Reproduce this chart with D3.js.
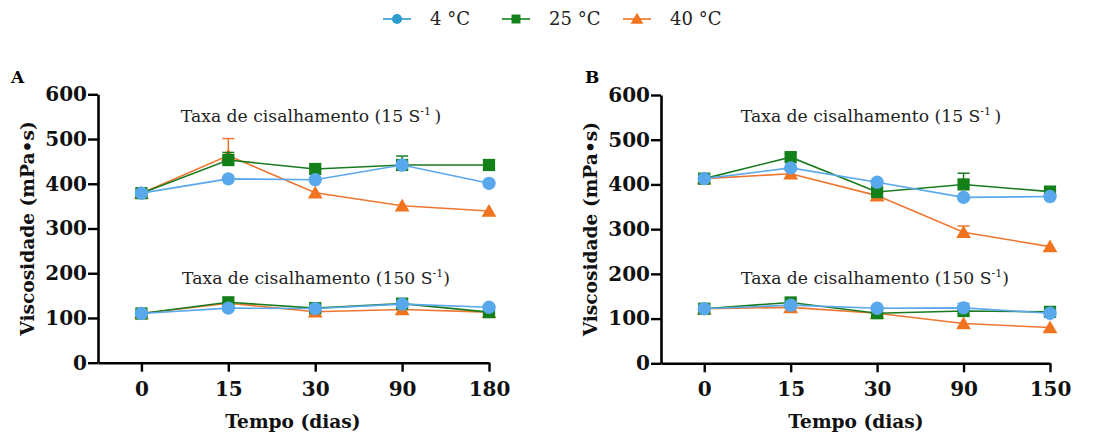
<!DOCTYPE html>
<html><head><meta charset="utf-8">
<script src="https://cdn.jsdelivr.net/npm/d3@7"></script>
<style>
body{margin:0;background:#fff;}
svg{display:block;}
</style></head>
<body>
<svg id="c" width="1093" height="437"></svg>
<script>
// ---- data ----
const seriesNames = ["4 °C", "25 °C", "40 °C"];
const daysA = ["0", "15", "30", "90", "180"];
const daysB = ["0", "15", "30", "90", "150"];
const yTicks = [0, 100, 200, 300, 400, 500, 600];

// Panel A, 15 s-1
const A15_4  = [379, 411, 409, 442, 401];
const A15_25 = [379, 453, 433, 442, 442];
const A15_40 = [379, 463, 380, 351, 339];
const A15_4e  = [0, 0, 0, 0, 0];
const A15_25e = [0, 17, 0, 20, 0];
const A15_40e = [0, 38, 0, 0, 0];
// Panel A, 150 s-1
const A150_4  = [110, 122, 121, 131, 124];
const A150_25 = [110, 135, 122, 132, 113];
const A150_40 = [110, 133, 114, 119, 113];
// Panel B, 15 s-1
const B15_4  = [413, 437, 405, 371, 373];
const B15_25 = [413, 461, 383, 400, 384];
const B15_40 = [413, 424, 375, 293, 261];
const B15_4e  = [0, 0, 0, 0, 0];
const B15_25e = [0, 8, 0, 25, 0];
const B15_40e = [0, 0, 5, 14, 0];
// Panel B, 150 s-1
const B150_4  = [122, 130, 123, 124, 112];
const B150_25 = [122, 136, 112, 117, 115];
const B150_40 = [122, 125, 112, 89, 80];
const B150_4e = [0, 0, 0, 10, 0];

const colors = {"4 °C": "#5aa8ec", "25 °C": "#13801a", "40 °C": "#f0731f"};
const lineColors = {"4 °C": "#5aa8ec", "25 °C": "#1a7a1f", "40 °C": "#ee7630"};
const shapes = {"4 °C": d3.symbolCircle, "25 °C": d3.symbolSquare, "40 °C": d3.symbolTriangle};
const sizes = {"4 °C": 140, "25 °C": 150, "40 °C": 95};

const svg = d3.select("#c");
const serif = "'DejaVu Serif', Georgia, serif";

function drawPanel(cfg) {
  const g = svg.append("g");
  const x = d3.scaleLinear().domain([-0.5, cfg.days.length - 1]).range([cfg.x0, cfg.x1]);
  const y = d3.scaleLinear().domain([0, 600]).range([cfg.yb, cfg.yt]);

  const yAxis = d3.axisLeft(y).tickValues(yTicks).tickSize(10).tickSizeOuter(0).tickPadding(1);
  const gy = g.append("g").attr("transform", `translate(${cfg.x0},0)`).call(yAxis);
  const xAxis = d3.axisBottom(x).tickValues(d3.range(cfg.days.length))
      .tickFormat(i => cfg.days[i]).tickSize(9).tickSizeOuter(0).tickPadding(10);
  const gx = g.append("g").attr("transform", `translate(0,${cfg.yb})`).call(xAxis);
  [gx, gy].forEach(a => {
    a.select(".domain").attr("stroke", "#000").attr("stroke-width", 2.6);
    a.selectAll(".tick line").attr("stroke", "#000").attr("stroke-width", 2.4);
    a.selectAll("text").attr("font-family", serif).attr("font-weight", "bold")
      .attr("font-size", 20).attr("fill", "#111");
  });

  // annotations
  function annot(cx, cy, num, space) {
    const t = g.append("text").attr("x", cx).attr("y", cy).attr("text-anchor", "middle")
      .attr("font-family", serif).attr("font-size", 17.2).attr("fill", "#222");
    t.append("tspan").text(`Taxa de cisalhamento (${num} S`);
    t.append("tspan").attr("font-size", 11).attr("dy", -7).text("-1");
    t.append("tspan").attr("dy", 7).text(space ? "\u2009)" : ")");
  }
  annot(cfg.a1x, cfg.a1y, "15", true);
  annot(cfg.a2x, cfg.a2y, "150", false);

  // panel letter
  g.append("text").attr("x", cfg.lx).attr("y", cfg.ly).attr("font-family", serif)
    .attr("font-weight", "bold").attr("font-size", 17).text(cfg.letter);

  // axis titles
  g.append("text").attr("transform", `translate(${cfg.ytx},${(cfg.yt + cfg.yb) / 2}) rotate(-90)`)
    .attr("text-anchor", "middle").attr("font-family", serif).attr("font-weight", "bold")
    .attr("font-size", 18.6).attr("fill", "#111").text("Viscosidade (mPa•s)");
  g.append("text").attr("x", cfg.xtx).attr("y", 428).attr("text-anchor", "middle")
    .attr("font-family", serif).attr("font-weight", "bold").attr("font-size", 18.6)
    .attr("fill", "#111").text("Tempo (dias)");

  const line = d3.line().x((d, i) => x(i)).y(d => y(d));
  const order = ["40 °C", "25 °C", "4 °C"];
  cfg.groups.forEach(grp => {
    order.forEach(name => {
      const vals = grp.vals[name];
      const errs = grp.errs[name] || vals.map(() => 0);
      // error bars
      vals.forEach((v, i) => {
        if (errs[i] > 0) {
          g.append("line").attr("x1", x(i)).attr("x2", x(i)).attr("y1", y(v)).attr("y2", y(v + errs[i]))
            .attr("stroke", lineColors[name]).attr("stroke-width", 1.5);
          g.append("line").attr("x1", x(i) - 6).attr("x2", x(i) + 6).attr("y1", y(v + errs[i])).attr("y2", y(v + errs[i]))
            .attr("stroke", lineColors[name]).attr("stroke-width", 1.5);
        }
      });
      g.append("path").datum(vals).attr("d", line).attr("fill", "none")
        .attr("stroke", lineColors[name]).attr("stroke-width", 1.6);
      g.selectAll(null).data(vals).enter().append("path")
        .attr("d", d3.symbol().type(shapes[name]).size(sizes[name]))
        .attr("transform", (d, i) => `translate(${x(i)},${y(d) + (name === "40 °C" ? 1.5 : 0)})`)
        .attr("fill", colors[name]);
    });
  });
}

drawPanel({
  letter: "A", lx: 11, ly: 83, x0: 98, x1: 489, yt: 94.3, yb: 362.7, days: daysA,
  ytx: 34, xtx: 293, a1x: 311, a1y: 122, a2x: 316, a2y: 284,
  groups: [
    {vals: {"4 °C": A15_4, "25 °C": A15_25, "40 °C": A15_40}, errs: {"4 °C": A15_4e, "25 °C": A15_25e, "40 °C": A15_40e}},
    {vals: {"4 °C": A150_4, "25 °C": A150_25, "40 °C": A150_40}, errs: {}}
  ]
});
drawPanel({
  letter: "B", lx: 585, ly: 83, x0: 661, x1: 1050, yt: 95, yb: 363.3, days: daysB,
  ytx: 597, xtx: 856, a1x: 871, a1y: 122, a2x: 875, a2y: 284,
  groups: [
    {vals: {"4 °C": B15_4, "25 °C": B15_25, "40 °C": B15_40}, errs: {"4 °C": B15_4e, "25 °C": B15_25e, "40 °C": B15_40e}},
    {vals: {"4 °C": B150_4, "25 °C": B150_25, "40 °C": B150_40}, errs: {"4 °C": B150_4e}}
  ]
});

// legend
const legendX = [383, 502, 623];
const legendColor = {"4 °C": "#2b9ccb", "25 °C": "#13801a", "40 °C": "#f0731f"};
seriesNames.forEach((name, i) => {
  const lg = svg.append("g").attr("transform", `translate(${legendX[i]},19)`);
  lg.append("line").attr("x1", 0).attr("x2", 28).attr("stroke", legendColor[name]).attr("stroke-width", 1.6);
  lg.append("path").attr("d", d3.symbol().type(shapes[name]).size(name === "40 °C" ? 70 : 80))
    .attr("transform", `translate(14,${name === "40 °C" ? 1 : 0})`).attr("fill", legendColor[name]);
  lg.append("text").attr("x", 47).attr("y", 6).attr("font-family", serif).attr("font-size", 18)
    .attr("fill", "#222").text(name);
});
</script>
</body></html>
